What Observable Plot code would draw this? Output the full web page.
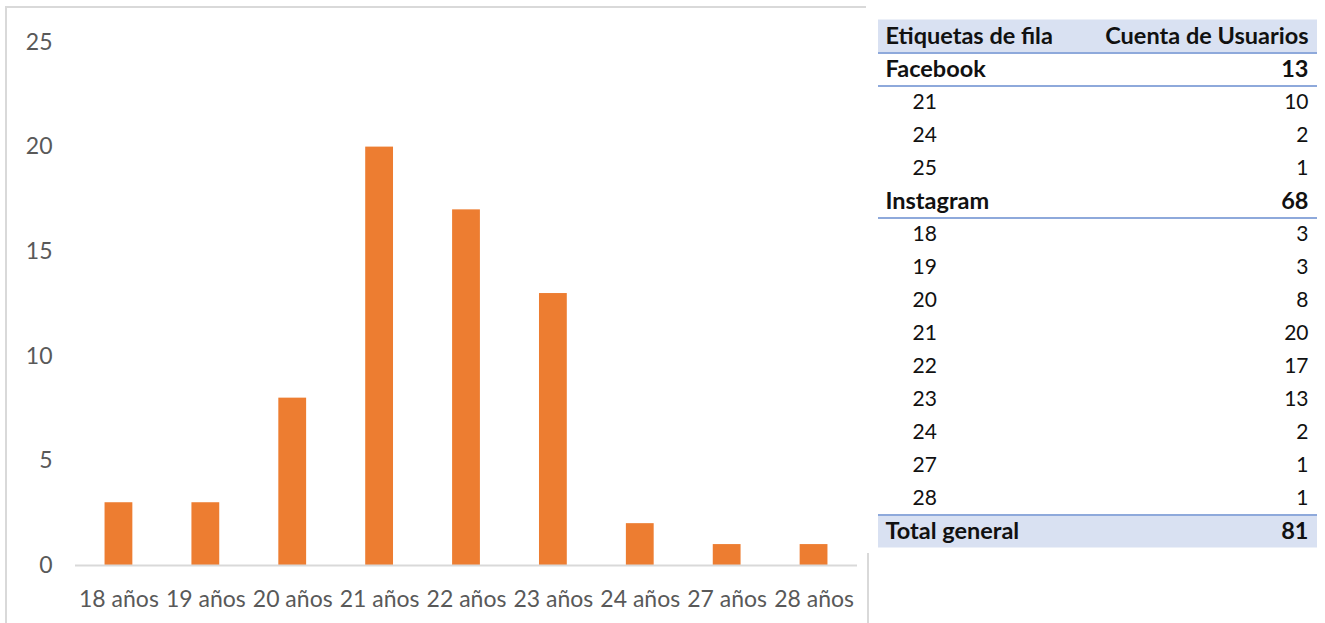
<!DOCTYPE html>
<html>
<head>
<meta charset="utf-8">
<script src="https://cdn.jsdelivr.net/npm/d3@7"></script>
<script src="https://cdn.jsdelivr.net/npm/@observablehq/plot@0.6"></script>
<style>
  html, body { margin: 0; padding: 0; background: #fff; width: 1325px; height: 623px; overflow: hidden; }
  #frame { position: absolute; left: 5px; top: 6px; width: 860px; height: 640px;
           border-top: 2px solid #d9d9d9; border-left: 2px solid #d9d9d9; border-right: 2px solid #d9d9d9; }
  #chart { position: absolute; left: 0; top: 0; }
  #table { position: absolute; left: 866px; top: 0; background: #fff; }
</style>
</head>
<body>
<div id="frame"></div>
<div id="chart"></div>
<div id="table"></div>
<script>
// ---- Chart data ----
const ageLabels = ["18 años", "19 años", "20 años", "21 años", "22 años", "23 años", "24 años", "27 años", "28 años"];
const userCounts = [3, 3, 8, 20, 17, 13, 2, 1, 1];
const yTicks = [0, 5, 10, 15, 20, 25];

// ---- Pivot table data ----
const rowLabels = ["Etiquetas de fila", "Facebook", "21", "24", "25", "Instagram", "18", "19", "20", "21", "22", "23", "24", "27", "28", "Total general"];
const rowValues = ["Cuenta de Usuarios", 13, 10, 2, 1, 68, 3, 3, 8, 20, 17, 13, 2, 1, 1, 81];
const rowKinds = ["header", "group", "item", "item", "item", "group", "item", "item", "item", "item", "item", "item", "item", "item", "item", "total"];

const chartData = ageLabels.map((a, i) => ({age: a, count: userCounts[i]}));

const chart = Plot.plot({
  width: 866,
  height: 623,
  marginLeft: 75,
  marginRight: 9,
  marginTop: 42,
  marginBottom: 58,
  style: {fontFamily: "Lato, sans-serif", fontSize: "23px", color: "#595959", background: "transparent"},
  x: {domain: ageLabels, paddingInner: 0.68, paddingOuter: 0.34, round: false, label: null},
  y: {domain: [0, 25], label: null},
  marks: [
    Plot.axisY({ticks: yTicks, tickSize: 0, tickPadding: 23, label: null, fill: "#595959"}),
    Plot.axisX({tickSize: 0, tickPadding: 25, label: null, fill: "#595959"}),
    Plot.barY(chartData, {x: "age", y: "count", fill: "#ED7D31"}),
    Plot.ruleY([0], {stroke: "#d9d9d9", strokeWidth: 2})
  ]
});
document.getElementById("chart").append(chart);

// ---- Table drawn with Plot ----
const rows = rowLabels.map((l, i) => ({i, label: l, value: rowValues[i], kind: rowKinds[i]}));
const isBold = d => d.kind !== "item";
const boldRows = rows.filter(isBold);
const plainRows = rows.filter(d => !isBold(d));
const shaded = rows.filter(d => d.kind === "header" || d.kind === "total");
const borderRows = rows.filter(d => d.kind === "header" || d.kind === "group");

const table = Plot.plot({
  width: 459,
  height: 553,
  marginLeft: 12,
  marginRight: 8,
  marginTop: 19.5,
  marginBottom: 5.5,
  style: {fontFamily: "Lato, sans-serif", fontSize: "21px", color: "#000", background: "#fff"},
  x: {axis: null},
  y: {domain: [-0.5, 15.5], reverse: true, axis: null},
  marks: [
    Plot.rect(shaded, {y1: d => d.i - 0.5, y2: d => d.i + 0.5, fill: "#D9E1F2"}),
    Plot.ruleY(borderRows, {y: d => d.i + 0.5, stroke: "#8EA9DB", strokeWidth: 2}),
    Plot.ruleY(rows.filter(d => d.kind === "total"), {y: d => d.i - 0.5, stroke: "#8EA9DB", strokeWidth: 2}),
    Plot.text(boldRows, {y: "i", text: "label", frameAnchor: "left", dx: 7, fontWeight: "bold", fontSize: 23.5, fill: "#111"}),
    Plot.text(plainRows, {y: "i", text: "label", frameAnchor: "left", dx: 34, fontSize: 21, fill: "#111"}),
    Plot.text(boldRows, {y: "i", text: d => String(d.value), frameAnchor: "right", dx: -9, fontWeight: "bold", fontSize: 23.5, fill: "#111"}),
    Plot.text(plainRows, {y: "i", text: d => String(d.value), frameAnchor: "right", dx: -9, fontSize: 21, fill: "#111"})
  ]
});
document.getElementById("table").append(table);
</script>
</body>
</html>
